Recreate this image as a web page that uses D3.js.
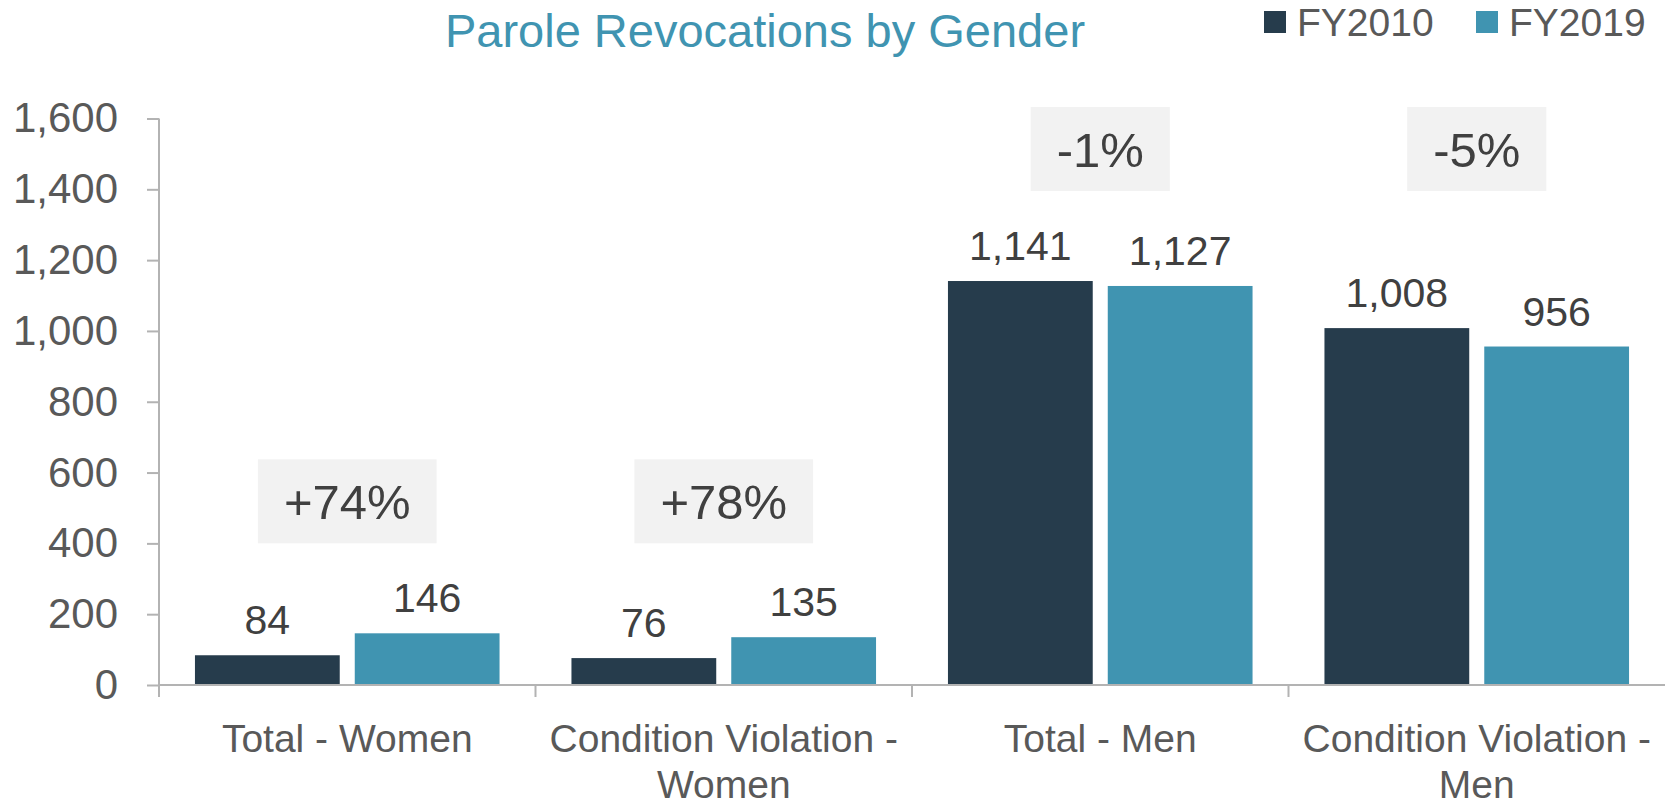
<!DOCTYPE html>
<html>
<head>
<meta charset="utf-8">
<script src="https://cdn.jsdelivr.net/npm/d3@7"></script>
<style>
  body { margin: 0; background: #fff; }
  svg { display: block; font-family: "Liberation Sans", Arial, sans-serif; }
</style>
</head>
<body>
<svg id="chart" width="1665" height="805"></svg>
<script>
const categories = [
  'Total - Women',
  'Condition Violation - Women',
  'Total - Men',
  'Condition Violation - Men',
];
const genders = ['Women', 'Women', 'Men', 'Men'];
const seriesNames = ['FY2010', 'FY2019'];
const fy2010 = [84, 76, 1141, 1008];
const fy2019 = [146, 135, 1127, 956];
const changeLabels = ['+74%', '+78%', '-1%', '-5%'];
const yTicks = [0, 200, 400, 600, 800, 1000, 1200, 1400, 1600];

const colors = ['#263c4c', '#4094b1'];
const svg = d3.select('#chart');
const margin = { left: 159, right: 0, top: 118.5, bottom: 120 };
const width = 1665;
const height = 805;

const x = d3.scaleBand()
  .domain(categories)
  .range([margin.left, width - margin.right])
  .paddingInner(0)
  .paddingOuter(0);

const xInner = d3.scaleBand()
  .domain(seriesNames)
  .range([0, x.bandwidth()])
  .paddingInner(0.094)
  .paddingOuter(0.225);

const y = d3.scaleLinear()
  .domain([0, 1600])
  .range([height - margin.bottom, margin.top]);

const rows = categories.map(function (c, i) {
  return {
    category: c,
    gender: genders[i],
    values: [fy2010[i], fy2019[i]],
    change: changeLabels[i],
  };
});

// highest bar per gender, the change boxes of a gender sit on one level
const genderMax = d3.rollup(rows, function (v) {
  return d3.max(v, function (d) { return d3.max(d.values); });
}, function (d) { return d.gender; });

// y axis
const yAxis = svg.append('g')
  .attr('transform', 'translate(' + margin.left + ',0)')
  .call(d3.axisLeft(y)
    .tickValues(yTicks)
    .tickSize(12)
    .tickPadding(29)
    .tickFormat(d3.format(',')));
yAxis.select('.domain').remove();
yAxis.selectAll('.tick line').attr('stroke', '#b3b3b3').attr('stroke-width', 2);
yAxis.selectAll('.tick text')
  .attr('fill', '#595959')
  .attr('font-size', 42)
  .attr('font-family', '"Liberation Sans", Arial, sans-serif');

svg.append('line')
  .attr('x1', margin.left).attr('x2', margin.left)
  .attr('y1', y(1600)).attr('y2', y(0) + 12)
  .attr('stroke', '#b3b3b3').attr('stroke-width', 2);

// bars
const groups = svg.selectAll('.group')
  .data(rows)
  .enter()
  .append('g')
  .attr('class', 'group')
  .attr('transform', function (d) { return 'translate(' + x(d.category) + ',0)'; });

function barData(d) {
  return d.values.map(function (v, i) { return { name: seriesNames[i], value: v }; });
}

groups.selectAll('rect')
  .data(barData)
  .enter()
  .append('rect')
  .attr('x', function (d) { return xInner(d.name); })
  .attr('width', xInner.bandwidth())
  .attr('y', function (d) { return y(d.value); })
  .attr('height', function (d) { return y(0) - y(d.value); })
  .attr('fill', function (d, i) { return colors[i]; });

groups.selectAll('.value')
  .data(barData)
  .enter()
  .append('text')
  .attr('class', 'value')
  .attr('x', function (d) { return xInner(d.name) + xInner.bandwidth() / 2; })
  .attr('y', function (d) { return y(d.value) - 21; })
  .attr('text-anchor', 'middle')
  .attr('fill', '#404040')
  .attr('font-size', 41)
  .text(function (d) { return d3.format(',')(d.value); });

// change boxes
groups.each(function (d) {
  const g = d3.select(this);
  const cy = y(genderMax.get(d.gender)) - 132;
  const t = g.append('text')
    .attr('x', x.bandwidth() / 2)
    .attr('y', cy)
    .attr('dy', '0.36em')
    .attr('text-anchor', 'middle')
    .attr('fill', '#404040')
    .attr('font-size', 49)
    .text(d.change);
  const w = t.node().getComputedTextLength() + 52;
  g.insert('rect', 'text')
    .attr('x', x.bandwidth() / 2 - w / 2)
    .attr('y', cy - 42)
    .attr('width', w)
    .attr('height', 84)
    .attr('fill', '#f2f2f2');
});

// x axis baseline and ticks
svg.append('line')
  .attr('x1', margin.left).attr('x2', width)
  .attr('y1', y(0)).attr('y2', y(0))
  .attr('stroke', '#b3b3b3').attr('stroke-width', 2);

svg.selectAll('.xtick')
  .data(categories.slice(1))
  .enter()
  .append('line')
  .attr('x1', function (d) { return x(d); })
  .attr('x2', function (d) { return x(d); })
  .attr('y1', y(0))
  .attr('y2', y(0) + 12)
  .attr('stroke', '#b3b3b3').attr('stroke-width', 2);

// category labels, wrapped to band width
const catLabels = svg.selectAll('.cat')
  .data(categories)
  .enter()
  .append('text')
  .attr('class', 'cat')
  .attr('text-anchor', 'middle')
  .attr('fill', '#595959')
  .attr('font-size', 39);

catLabels.each(function (d) {
  const text = d3.select(this);
  const cx = x(d) + x.bandwidth() / 2;
  const words = d.split(' ');
  let line = [];
  let lineNo = 0;
  let tspan = text.append('tspan').attr('x', cx).attr('y', 752);
  words.forEach(function (word) {
    line.push(word);
    tspan.text(line.join(' '));
    if (tspan.node().getComputedTextLength() > x.bandwidth() - 4 && line.length > 1) {
      line.pop();
      tspan.text(line.join(' '));
      line = [word];
      lineNo++;
      tspan = text.append('tspan').attr('x', cx).attr('y', 752 + lineNo * 46).text(word);
    }
  });
});

// title
svg.append('text')
  .attr('x', 765)
  .attr('y', 47)
  .attr('text-anchor', 'middle')
  .attr('fill', '#4094b1')
  .attr('font-size', 47)
  .text('Parole Revocations by Gender');

// legend
const legendX = [1264, 1476];
const legend = svg.selectAll('.legend')
  .data(seriesNames)
  .enter()
  .append('g')
  .attr('class', 'legend')
  .attr('transform', function (d, i) { return 'translate(' + legendX[i] + ',0)'; });

legend.append('rect')
  .attr('x', 0).attr('y', 11)
  .attr('width', 22).attr('height', 22)
  .attr('fill', function (d, i) { return colors[i]; });

legend.append('text')
  .attr('x', 33)
  .attr('y', 36)
  .attr('fill', '#595959')
  .attr('font-size', 39)
  .text(function (d) { return d; });
</script>
</body>
</html>
